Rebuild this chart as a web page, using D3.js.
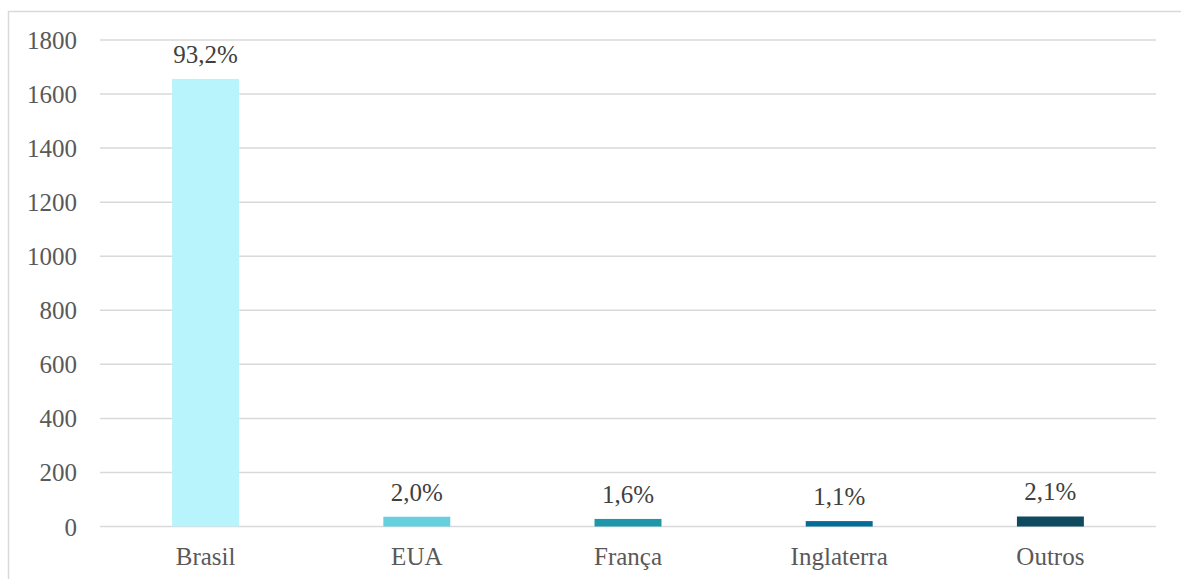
<!DOCTYPE html>
<html>
<head>
<meta charset="utf-8">
<script src="https://cdn.jsdelivr.net/npm/d3@7"></script>
<style>
  html, body { margin: 0; padding: 0; background: #fff; }
  svg { display: block; }
</style>
</head>
<body>
<svg id="chart" width="1181" height="579"></svg>
<script>
// Origem dos registros por país
const categories = ["Brasil", "EUA", "França", "Inglaterra", "Outros"];
const counts = [1656, 36, 28, 20, 37];
const barColors = ["#B8F4FC", "#66D0DF", "#1E97AA", "#056D95", "#0F4A5F"];
const yTicks = [0, 200, 400, 600, 800, 1000, 1200, 1400, 1600, 1800];

const svg = d3.select("#chart");
const font = "'Liberation Serif', 'DejaVu Serif', serif";
const fontSize = 25;

// chart area frame
svg.append("rect")
  .attr("x", 8.5).attr("y", 11.5)
  .attr("width", 1200).attr("height", 600)
  .attr("fill", "none").attr("stroke", "#d9d9d9").attr("stroke-width", 1.5);

const margin = { left: 100, right: 1156, top: 40, bottom: 526.5 };

const x = d3.scaleBand()
  .domain(categories)
  .range([margin.left, margin.right])
  .paddingInner(0.683)
  .paddingOuter(0.3415);

const y = d3.scaleLinear()
  .domain([0, 1800])
  .range([margin.bottom, margin.top]);

// gridlines
svg.append("g")
  .selectAll("line")
  .data(yTicks)
  .join("line")
  .attr("x1", margin.left).attr("x2", margin.right)
  .attr("y1", d => y(d)).attr("y2", d => y(d))
  .attr("stroke", "#d9d9d9").attr("stroke-width", 1.5);

// y axis labels
const yAxis = d3.axisLeft(y).tickValues(yTicks).tickFormat(d3.format("d"))
  .tickSize(0).tickPadding(0);
const gy = svg.append("g")
  .attr("transform", `translate(${margin.left - 23},0)`)
  .call(yAxis);
gy.select(".domain").remove();
gy.selectAll("text")
  .attr("font-family", font).attr("font-size", fontSize)
  .attr("fill", "#595959").attr("dy", "0.34em");

// bars
svg.append("g")
  .selectAll("rect")
  .data(categories)
  .join("rect")
  .attr("x", d => x(d))
  .attr("width", x.bandwidth())
  .attr("y", (d, i) => y(counts[i]))
  .attr("height", (d, i) => y(0) - y(counts[i]))
  .attr("fill", (d, i) => barColors[i]);

// percentage labels
const total = d3.sum(counts);
svg.append("g")
  .selectAll("text")
  .data(categories)
  .join("text")
  .attr("x", d => x(d) + x.bandwidth() / 2)
  .attr("y", (d, i) => y(counts[i]) - 16)
  .attr("text-anchor", "middle")
  .attr("font-family", font).attr("font-size", fontSize)
  .attr("fill", "#404040")
  .text((d, i) => (counts[i] / total * 100).toFixed(1).replace(".", ",") + "%");

// x axis labels
const xAxis = d3.axisBottom(x).tickSize(0).tickPadding(0);
const gx = svg.append("g")
  .attr("transform", `translate(0,${margin.bottom + 38})`)
  .call(xAxis);
gx.select(".domain").remove();
gx.selectAll("text")
  .attr("font-family", font).attr("font-size", fontSize)
  .attr("fill", "#595959").attr("dy", 0);
</script>
</body>
</html>
